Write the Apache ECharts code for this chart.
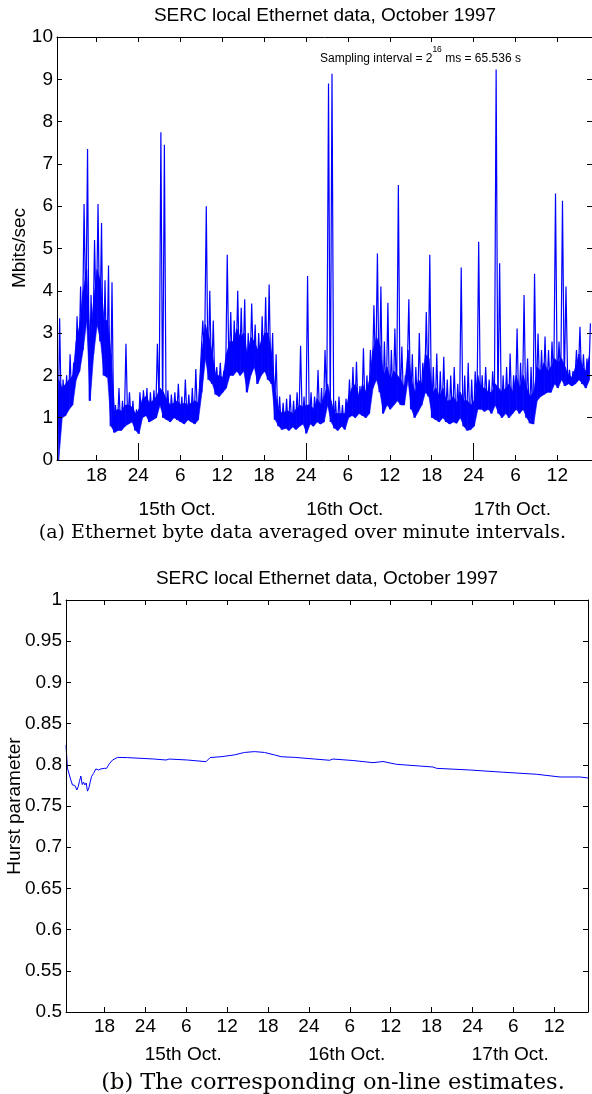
<!DOCTYPE html>
<html><head><meta charset="utf-8">
<script src="https://cdn.jsdelivr.net/npm/echarts@6.0.0/dist/echarts.min.js"></script>
<style>html,body{margin:0;padding:0;background:#fff}#c{width:592px;height:1094px}</style>
</head><body><div id="c"></div>
<script>
// ---- data (time in hours after 00:00, 14 Oct 1997) ----
const startHour = 12.35;
const endHour = 88.95;
const bucketHours = 0.5;   // per half-hour: lowest reading, top of the dense band, highest reading
const rateLow = [
 0,1.0,1.05,1.2,1.3,1.9,2.1,2.6,3.3,1.4, 2.5,3.2,2.8,2.0,1.95,0.8,0.65,0.7,0.7,0.8,
 0.85,0.9,0.7,0.62,1.0,1.05,0.9,0.95,1.0,1.3, 1.0,0.95,0.9,1.0,0.95,0.9,0.85,0.95,0.9,0.85,
 0.95,1.6,2.4,1.9,1.8,1.55,1.5,1.6,1.7,2.0, 2.0,2.1,2.0,2.1,1.6,2.0,2.2,1.8,2.0,2.1,
 1.9,1.8,0.95,0.8,0.72,0.75,0.7,0.78,0.72,0.8, 0.85,0.63,0.85,0.8,0.9,0.85,0.9,1.3,0.9,0.75,
 0.7,0.8,0.72,1.0,1.05,1.0,1.1,1.05,1.0,1.1, 1.7,1.9,1.6,1.1,1.3,1.2,1.3,1.4,1.3,1.3,
 1.9,1.2,1.0,1.15,1.3,1.6,1.5,1.0,0.95,0.9, 1.0,0.9,0.85,0.9,0.87,1.0,0.8,0.7,0.72,0.8,
 1.2,1.2,1.15,1.2,1.1,1.3,1.1,1.0,1.1,1.0, 1.1,1.2,1.1,1.2,1.0,0.87,0.85,1.4,1.5,1.55,
 1.6,1.6,1.8,1.7,1.9,1.75,1.8,1.75,1.8,1.9, 1.8,1.7,1.9
];
const rateBand = [
 1.9,1.7,1.8,1.9,2.0,2.8,3.2,4.0,4.5,2.8, 3.8,4.5,4.2,3.3,3.3,2.5,1.15,1.2,1.15,1.3,
 1.3,1.25,1.1,1.2,1.45,1.5,1.35,1.4,1.5,1.7, 1.6,1.4,1.3,1.35,1.4,1.3,1.35,1.3,1.35,1.4,
 1.35,2.6,3.2,2.9,2.5,2.0,2.0,1.95,2.5,2.8, 2.8,3.1,2.9,3.0,2.5,2.9,2.8,2.6,2.8,3.0,
 3.0,2.5,1.6,1.2,1.1,1.15,1.15,1.1,1.2,1.3, 1.25,1.3,1.3,1.2,1.45,1.3,1.5,1.8,1.4,1.1,
 1.1,1.1,1.1,1.5,1.7,1.8,1.5,1.8,1.6,1.9, 2.6,2.9,2.7,2.0,2.2,1.9,2.1,2.0,1.9,1.7,
 2.6,1.9,1.6,1.9,1.8,2.5,2.4,1.6,1.7,1.5, 1.7,1.4,1.4,1.5,1.35,1.6,1.4,1.4,1.3,1.4,
 2.0,1.7,1.7,1.6,1.6,1.8,1.7,1.6,1.7,1.8, 1.6,2.0,1.7,2.0,1.7,1.5,1.6,2.2,2.1,2.3,
 2.1,2.2,2.4,2.3,2.4,2.2,2.0,1.95,2.2,2.5, 2.2,2.1,2.5
];
const ratePeak = [
 3.35,1.9,2.0,2.5,2.3,3.4,4.1,6.05,7.35,3.9, 5.2,6.05,5.6,4.25,4.6,4.2,1.3,1.7,1.4,2.75,
 1.6,1.4,1.2,1.6,1.65,1.7,1.6,1.65,2.75,7.75, 7.45,1.65,1.55,1.6,1.8,1.5,1.9,1.55,1.7,2.15,
 1.6,3.3,6.0,4.0,3.3,2.2,2.3,2.1,4.85,3.5, 3.3,4.0,3.6,3.8,3.0,3.7,3.2,3.0,3.4,3.85,
 4.15,3.0,2.5,1.5,1.35,1.45,1.55,1.4,1.6,2.7, 1.5,4.35,1.6,1.5,2.13,1.7,2.6,8.9,9.13,1.4,
 1.5,1.3,1.45,1.9,2.2,2.32,1.75,2.64,2.0,2.6, 3.66,4.88,4.1,2.8,3.72,2.6,3.11,6.5,2.68,2.0,
 3.8,2.5,2.2,3.0,2.3,3.5,4.85,2.2,2.52,2.1, 2.44,1.9,2.0,2.2,1.8,4.55,2.0,2.3,1.9,2.1,
 5.16,2.0,2.2,1.9,2.1,9.23,4.65,2.0,2.2,2.52, 2.0,3.11,2.3,3.9,2.4,2.2,4.4,2.99,2.6,2.92,
 2.6,2.8,6.3,2.8,6.13,4.1,2.13,2.1,2.6,3.15, 2.5,2.4,3.23
];
const hurstHour = [12.35,12.56,13.06,13.3,13.65,13.95,14.14,14.33,14.53,14.73,14.92,15.12,15.31,15.5,15.71,15.9,
 16.09,16.39,16.74,17.12,17.47,17.96,18.3,18.69,19.18,19.92,21.38,25.3,27.03,27.51,30.2,32.9,33.5,35.1,37.07,
 38.54,40.0,41.48,42.95,43.93,45.9,48.83,51.03,51.52,54.46,57.4,58.87,60.84,64.26,66.22,66.72,71.6,76.5,81.42,
 84.84,87.78,88.95];
const hurstValue = [0.824,0.796,0.7815,0.7755,0.775,0.7694,0.7735,0.780,0.7864,0.776,0.779,0.7755,0.778,0.768,0.772,0.779,
 0.7856,0.7896,0.795,0.7937,0.795,0.7957,0.7957,0.801,0.8058,0.809,0.8087,0.807,0.8058,0.807,0.8058,0.8038,0.8088,0.8098,0.812,
 0.815,0.816,0.815,0.812,0.8098,0.809,0.807,0.8055,0.807,0.8052,0.8026,0.804,0.8006,0.7985,0.7973,0.7957,0.7937,0.791,0.7885,
 0.7852,0.7852,0.784];
const hourTicks = [18,24,30,36,42,48,54,60,66,72,78,84];
const midnightTicks = [24,48,72];
const dayLabels = ['15th Oct.','16th Oct.','17th Oct.'];
const dayLabelHour = [29.55,53.55,77.55];
const titleText = 'SERC local Ethernet data, October 1997';
const captionA = '(a) Ethernet byte data averaged over minute intervals.';
const captionB = '(b) The corresponding on-line estimates.';

// ---- build series ----
const bucketMid = k => startHour + (k + 0.5) * bucketHours;
const rateZigzag = [], bandItems = [];
for (let k = 0; k < rateLow.length; k++) {
  const t0 = startHour + k * bucketHours;
  rateZigzag.push([t0 + bucketHours * 0.25, rateLow[k]]);
  rateZigzag.push([t0 + bucketHours * 0.75, ratePeak[k]]);
  if (k < rateLow.length - 1)
    bandItems.push([bucketMid(k), rateLow[k], rateBand[k], bucketMid(k + 1), rateLow[k + 1], rateBand[k + 1]]);
}
const hurstSeries = hurstHour.map((t, i) => [t, hurstValue[i]]);

const FONT = 'Liberation Sans';
const BLUE = '#0000ff';
const hourFmt = v => { const h = Math.round(v) % 24; return h === 0 ? '24' : String(h); };
const black = '#000';

function xAxes(gi, withMidnight, labelMargin, dayMargin) {
  const base = { type: 'value', gridIndex: gi, min: startHour, max: endHour, splitLine: { show: false }, z: 10 };
  const arr = [
    Object.assign({}, base, { position: 'bottom',
      axisLine: { show: true, onZero: false, lineStyle: { color: black, width: 1 } },
      axisTick: { show: true, inside: true, length: 5, customValues: hourTicks, lineStyle: { color: black } },
      axisLabel: { show: true, customValues: hourTicks, formatter: hourFmt, fontFamily: FONT, fontSize: 19, color: black, margin: labelMargin } }),
    Object.assign({}, base, { position: 'top',
      axisLine: { show: true, onZero: false, lineStyle: { color: black, width: 1 } },
      axisTick: { show: true, inside: true, length: 5, customValues: hourTicks, lineStyle: { color: black } },
      axisLabel: { show: false } }),
    Object.assign({}, base, { position: 'bottom',
      axisLine: { show: false, onZero: false }, axisTick: { show: false },
      axisLabel: { show: true, customValues: dayLabelHour,
        formatter: v => { let b = 0; dayLabelHour.forEach((h, i) => { if (Math.abs(h - v) < Math.abs(dayLabelHour[b] - v)) b = i; }); return dayLabels[b]; },
        fontFamily: FONT, fontSize: 19, color: black, margin: dayMargin } })
  ];
  if (withMidnight) arr.push(Object.assign({}, base, { position: 'bottom',
      axisLine: { show: false, onZero: false },
      axisTick: { show: true, inside: true, length: 17, customValues: midnightTicks, lineStyle: { color: black } },
      axisLabel: { show: false } }));
  return arr;
}
function yAxes(gi, min, max, interval, fmt) {
  const base = { type: 'value', gridIndex: gi, min, max, interval, splitLine: { show: false }, z: 10 };
  return [
    Object.assign({}, base, { position: 'left',
      axisLine: { show: true, onZero: false, lineStyle: { color: black, width: 1 } },
      axisTick: { show: true, inside: true, length: 5, lineStyle: { color: black } },
      axisLabel: { show: true, formatter: fmt, fontFamily: FONT, fontSize: 19, color: black, margin: 4 } }),
    Object.assign({}, base, { position: 'right',
      axisLine: { show: true, onZero: false, lineStyle: { color: black, width: 1 } },
      axisTick: { show: true, inside: true, length: 5, lineStyle: { color: black } },
      axisLabel: { show: false } })
  ];
}

const xa0 = xAxes(0, true, 6, 40);
const xa1 = xAxes(1, false, 5, 33);
const chart = echarts.init(document.getElementById('c'), null, { renderer: 'canvas' });
chart.setOption({
  animation: false,
  backgroundColor: '#fff',
  grid: [
    { left: 57, top: 37, width: 535, height: 423, containLabel: false, outerBoundsMode: 'none' },
    { left: 66, top: 600, width: 522, height: 412, containLabel: false, outerBoundsMode: 'none' }
  ],
  xAxis: xa0.concat(xa1),
  yAxis: yAxes(0, 0, 10, 1, v => String(v)).concat(yAxes(1, 0.5, 1, 0.05, v => String(+v.toFixed(2)))),
  series: [
    // dense band between the lowest readings and the top of the dense part
    { type: 'custom', xAxisIndex: 0, yAxisIndex: 0, data: bandItems, clip: true, silent: true, z: 2,
      encode: { x: [0, 3], y: [1, 2, 4, 5] },
      renderItem: (params, api) => {
        const pts = [
          api.coord([api.value(0), api.value(1)]),
          api.coord([api.value(0), api.value(2)]),
          api.coord([api.value(3), api.value(5)]),
          api.coord([api.value(3), api.value(4)])
        ];
        return { type: 'polygon', shape: { points: pts }, style: { fill: BLUE, stroke: BLUE, lineWidth: 0.6 } };
      } },
    { type: 'line', xAxisIndex: 0, yAxisIndex: 0, data: rateZigzag, showSymbol: false, symbol: 'none', z: 4,
      lineStyle: { color: BLUE, width: 1.2 }, clip: true },
    { type: 'line', xAxisIndex: xa0.length, yAxisIndex: 2, data: hurstSeries, showSymbol: false, symbol: 'none',
      lineStyle: { color: BLUE, width: 1 }, clip: true }
  ],
  graphic: [
    { type: 'text', x: 325, y: 16, style: { text: titleText, font: '19px "Liberation Sans"', fill: black, align: 'center', verticalAlign: 'middle' } },
    { type: 'text', x: 327, y: 579, style: { text: titleText, font: '19px "Liberation Sans"', fill: black, align: 'center', verticalAlign: 'middle' } },
    { type: 'text', x: 320, y: 55, style: {
        text: '{a|Sampling interval = 2}{s|16}{a| ms = 65.536 s}', align: 'left', verticalAlign: 'middle',
        rich: { a: { fontFamily: FONT, fontSize: 12, lineHeight: 20, verticalAlign: 'bottom', fill: black, color: black },
                s: { fontFamily: FONT, fontSize: 8.5, lineHeight: 12, verticalAlign: 'top', fill: black, color: black } } } },
    { type: 'text', x: 20, y: 248, rotation: Math.PI / 2, style: { text: 'Mbits/sec', font: '19px "Liberation Sans"', fill: black, align: 'center', verticalAlign: 'middle' } },
    { type: 'text', x: 15, y: 806, rotation: Math.PI / 2, style: { text: 'Hurst parameter', font: '19px "Liberation Sans"', fill: black, align: 'center', verticalAlign: 'middle' } },
    { type: 'text', x: 302.5, y: 533, style: { text: captionA, font: '19px "DejaVu Serif"', fill: black, align: 'center', verticalAlign: 'middle' } },
    { type: 'text', x: 333, y: 1083, style: { text: captionB, font: '22.5px "DejaVu Serif"', fill: black, align: 'center', verticalAlign: 'middle' } }
  ]
});
</script></body></html>
